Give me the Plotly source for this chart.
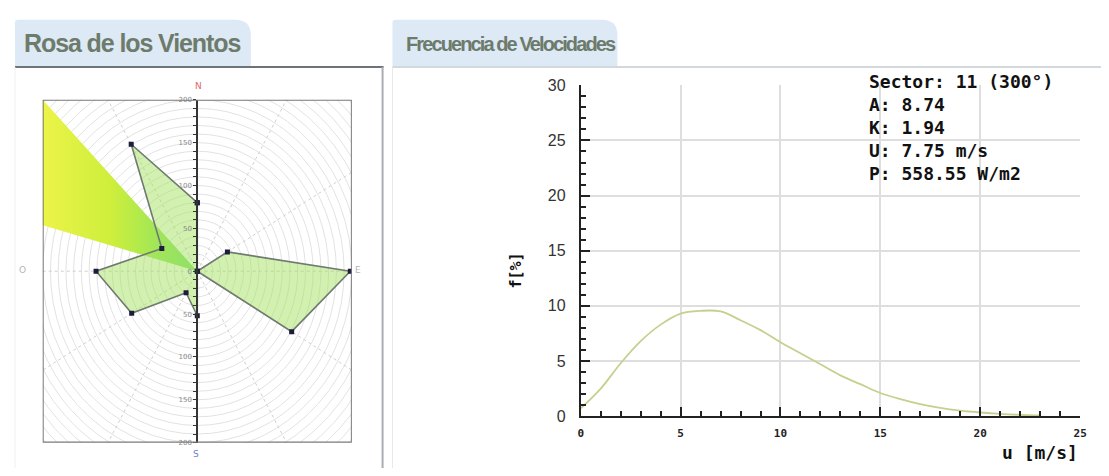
import numpy as np
import plotly.graph_objects as go

# page is 1109x476; the default body margin is 8px, so the figure itself is 1093x460
PAGE_W, PAGE_H, OFF = 1109, 476, 8
W, H = PAGE_W - 2 * OFF, PAGE_H - 2 * OFF

# ---------------- data ----------------
rose_dirs = [0, 30, 60, 90, 120, 150, 180, 210, 240, 270, 300, 330]
rose_vals = [80, 0, 45, 198, 141, 0, 52, 29, 98, 131, 53, 171]
sel_dir = 300
sel_width = 30
rose_tick_vals = [-200, -150, -100, -50, 0, 50, 100, 150, 200]
rose_tick_text = ["200", "150", "100", "50", "0", "50", "100", "150", "200"]
compass_labels = ["N", "S", "O", "E"]

speed_u = list(range(0, 24))
speed_f = [0.7, 2.5, 4.8, 6.8, 8.3, 9.3, 9.55, 9.5, 8.7, 7.8, 6.7, 5.7,
           4.7, 3.7, 2.9, 2.1, 1.55, 1.1, 0.75, 0.5, 0.33, 0.2, 0.12, 0.07]
freq_ticks = [0, 5, 10, 15, 20, 25, 30]
speed_ticks = [0, 5, 10, 15, 20, 25]
info_lines = ["Sector: 11 (300°)", "A: 8.74", "K: 1.94", "U: 7.75 m/s", "P: 558.55 W/m2"]
tab_titles = ["Rosa de los Vientos", "Frecuencia de Velocidades"]


def X(px):
    return (px - OFF) / W


def Y(py):
    return 1 - (py - OFF) / H


TAB_FONT = "Liberation Sans, Arial, sans-serif"
MONO = "DejaVu Sans Mono, Liberation Mono, monospace"

fig = go.Figure()

# ---------------- wind rose ----------------
th = np.deg2rad(np.array(rose_dirs + rose_dirs[:1], dtype=float))
rv = np.array(rose_vals + rose_vals[:1], dtype=float)
rx = rv * np.sin(th)
ry = rv * np.cos(th)

wa = np.deg2rad(np.linspace(sel_dir - sel_width / 2, sel_dir + sel_width / 2, 20))
wx = np.concatenate([[0], 420 * np.sin(wa), [0]])
wy = np.concatenate([[0], 420 * np.cos(wa), [0]])
fig.add_trace(go.Scatter(
    x=wx, y=wy, mode="lines", fill="toself", line=dict(width=0),
    fillgradient=dict(type="horizontal", start=-200, stop=0,
                      colorscale=[[0, "#ecf448"], [0.45, "#cdee3c"], [1, "#74e070"]]),
    xaxis="x", yaxis="y", hoverinfo="skip", showlegend=False))

fig.add_trace(go.Scatter(
    x=rx, y=ry, mode="lines+markers", fill="toself",
    fillcolor="rgba(165,226,95,0.5)",
    line=dict(color="#6f7a70", width=1.6),
    marker=dict(symbol="square", size=5, color="#1c1c3c"),
    xaxis="x", yaxis="y", showlegend=False))

shapes = []
for r in range(10, 290, 10):
    shapes.append(dict(type="circle", xref="x", yref="y", x0=-r, y0=-r, x1=r, y1=r,
                       line=dict(color="#e2e2e2", width=1), layer="below"))
for a in [30, 60, 120, 150, 210, 240, 300, 330]:
    ar = np.deg2rad(a)
    shapes.append(dict(type="line", xref="x", yref="y", x0=0, y0=0,
                       x1=320 * np.sin(ar), y1=320 * np.cos(ar),
                       line=dict(color="#cfcfcf", width=1, dash="dot"), layer="below"))
shapes.append(dict(type="line", xref="x", yref="y", x0=-200, x1=200, y0=0, y1=0,
                   line=dict(color="#cfcfcf", width=1, dash="dot"), layer="below"))
shapes.append(dict(type="rect", xref="x", yref="y", x0=-200, y0=-200, x1=200, y1=200,
                   line=dict(color="#7a7a7a", width=2), layer="above"))


def tab_path(x0, x1, y0, y1, r):
    return (f"M {X(x0)} {Y(y1)} L {X(x0)} {Y(y0 + 3)} Q {X(x0)} {Y(y0)} {X(x0 + 3)} {Y(y0)} "
            f"L {X(x1 - r)} {Y(y0)} Q {X(x1)} {Y(y0)} {X(x1)} {Y(y0 + r)} L {X(x1)} {Y(y1)} Z")


shapes.append(dict(type="path", xref="paper", yref="paper", path=tab_path(12, 250, 12, 61, 16),
                   fillcolor="#dde9f5", line=dict(width=0), layer="below"))
shapes.append(dict(type="path", xref="paper", yref="paper", path=tab_path(393, 620, 12, 61, 16),
                   fillcolor="#dde9f5", line=dict(width=0), layer="below"))
shapes.append(dict(type="line", xref="paper", yref="paper", x0=X(12), x1=X(384), y0=Y(61), y1=Y(61),
                   line=dict(color="#6c7478", width=2)))
shapes.append(dict(type="line", xref="paper", yref="paper", x0=X(383), x1=X(383), y0=Y(61), y1=Y(480),
                   line=dict(color="#a9adb2", width=2)))
shapes.append(dict(type="line", xref="paper", yref="paper", x0=X(12), x1=X(12), y0=Y(61), y1=Y(480),
                   line=dict(color="#eef0f2", width=1)))
shapes.append(dict(type="line", xref="paper", yref="paper", x0=X(393), x1=X(1110), y0=Y(61), y1=Y(61),
                   line=dict(color="#d3d8dd", width=2)))
shapes.append(dict(type="line", xref="paper", yref="paper", x0=X(393), x1=X(393), y0=Y(61), y1=Y(480),
                   line=dict(color="#e6e9ec", width=1)))

# ---------------- speed distribution ----------------
fig.add_trace(go.Scatter(
    x=speed_u, y=speed_f, mode="lines", line=dict(color="#c6d08e", width=1.8, shape="spline"),
    xaxis="x2", yaxis="y2", showlegend=False))

ann = []
ann.append(dict(text=f"<span style='letter-spacing:-1.1px'>{tab_titles[0]}</span>",
                x=X(19), y=Y(36), xref="paper", yref="paper",
                xanchor="left", yanchor="middle", showarrow=False,
                font=dict(family=TAB_FONT, size=25, color="#6d7b6c", weight="bold")))
ann.append(dict(text=f"<span style='letter-spacing:-1.9px'>{tab_titles[1]}</span>",
                x=X(405), y=Y(37), xref="paper", yref="paper",
                xanchor="left", yanchor="middle", showarrow=False,
                font=dict(family=TAB_FONT, size=20, color="#6d7b6c", weight="bold")))
comp_pos = [(197, 81, "#e06a6a"), (195, 463, "#6f7fd0"), (20, 272, "#b5b5b5"), (358, 272, "#b5b5b5")]
for lab, (px, py, c) in zip(compass_labels, comp_pos):
    ann.append(dict(text=lab, x=X(px), y=Y(py), xref="paper", yref="paper", showarrow=False,
                    xanchor="center", yanchor="middle",
                    font=dict(family="DejaVu Sans", size=9, color=c)))
for i, line in enumerate(info_lines):
    ann.append(dict(text=line, x=X(872), y=Y(76 + i * 24), xref="paper", yref="paper",
                    xanchor="left", yanchor="middle", showarrow=False,
                    font=dict(family=MONO, size=18, color="#111", weight="bold")))
ann.append(dict(text="f[%]", x=X(518), y=Y(272), xref="paper", yref="paper", textangle=-90,
                xanchor="center", yanchor="middle",
                showarrow=False, font=dict(family=MONO, size=15, color="#111", weight="bold")))
ann.append(dict(text="u [m/s]", x=X(1046), y=Y(461), xref="paper", yref="paper",
                xanchor="center", yanchor="middle",
                showarrow=False, font=dict(family=MONO, size=18, color="#111", weight="bold")))

fig.update_layout(
    width=W, height=H, margin=dict(l=0, r=0, t=0, b=0),
    paper_bgcolor="white", plot_bgcolor="rgba(0,0,0,0)",
    shapes=shapes, annotations=ann, showlegend=False,
    xaxis=dict(domain=[X(40), X(352)], range=[-200, 200], visible=False, fixedrange=True),
    yaxis=dict(domain=[Y(451), Y(95)], range=[-200, 200], anchor="free", position=X(196),
               showgrid=False, zeroline=False, showline=True, linecolor="#333", linewidth=2,
               tickvals=rose_tick_vals, ticktext=rose_tick_text, ticks="outside", ticklen=3,
               tickcolor="#333", tickfont=dict(family="DejaVu Sans", size=7, color="#8a8a8a"),
               minor=dict(dtick=10, ticks="outside", ticklen=3, tickcolor="#333"),
               fixedrange=True),
    xaxis2=dict(domain=[X(583), X(1087)], range=[0, 25], anchor="y2",
                tickvals=speed_ticks, showgrid=True, gridcolor="#dedede", gridwidth=1.5,
                zeroline=False, showline=True, linecolor="#222", linewidth=2,
                ticks="inside", ticklen=9, tickwidth=2, tickcolor="#222",
                minor=dict(dtick=1, ticks="inside", ticklen=5, tickwidth=2, tickcolor="#222", showgrid=False),
                tickfont=dict(family=MONO, size=11, color="#222", weight="bold"),
                ticklabelstandoff=6, fixedrange=True),
    yaxis2=dict(domain=[Y(423.5), Y(80)], range=[0, 30], anchor="x2",
                tickvals=freq_ticks, showgrid=True, gridcolor="#dedede", gridwidth=1.5,
                zeroline=False, showline=True, linecolor="#222", linewidth=2,
                ticks="inside", ticklen=9, tickwidth=2, tickcolor="#222",
                minor=dict(dtick=1, ticks="inside", ticklen=5, tickwidth=2, tickcolor="#222", showgrid=False),
                tickfont=dict(family="Liberation Sans, Arial, sans-serif", size=16, color="#333"),
                ticklabelstandoff=10, fixedrange=True),
)

fig.write_html("out.html", config={"displayModeBar": False})
